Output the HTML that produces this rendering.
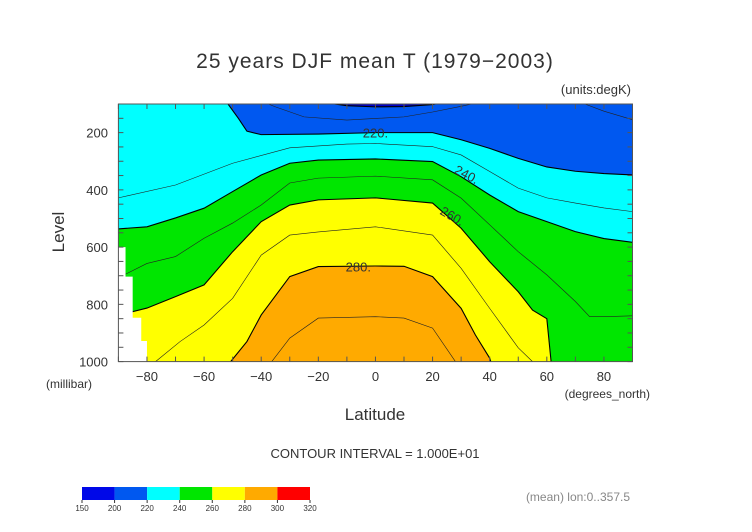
<!DOCTYPE html>
<html><head><meta charset="utf-8">
<style>
html,body{margin:0;padding:0;background:#fff;}
svg{display:block;font-family:"Liberation Sans",sans-serif;}
text{fill:#333;}
</style></head>
<body>
<svg id="chart" width="752" height="532" viewBox="0 0 752 532">
<defs><clipPath id="plotclip"><rect x="118.4" y="104" width="514.1" height="257.6"/></clipPath></defs>
<text x="375" y="68" text-anchor="middle" font-size="21" letter-spacing="1">25 years DJF mean T (1979−2003)</text>
<text x="631" y="94" text-anchor="end" font-size="13">(units:degK)</text>
<g id="plot" clip-path="url(#plotclip)"></g>
<g id="lines" clip-path="url(#plotclip)"></g>
<g id="axes"></g>
<text transform="translate(64,232) rotate(-90)" text-anchor="middle" font-size="17">Level</text>
<text x="46" y="388" font-size="12">(millibar)</text>
<text x="375" y="420" text-anchor="middle" font-size="17">Latitude</text>
<text x="650" y="398" text-anchor="end" font-size="12">(degrees_north)</text>
<text x="375" y="458" text-anchor="middle" font-size="13">CONTOUR INTERVAL = 1.000E+01</text>
<text x="630" y="501" text-anchor="end" font-size="12" fill="#888" style="fill:#888">(mean) lon:0..357.5</text>
<g id="cbar"></g>
</svg>
<script>
// ---- data ----
const xTicks = [-80,-60,-40,-20,0,20,40,60,80];
const yTicks = [200,400,600,800,1000];
const cbLevels = [150,200,220,240,260,280,300,320];
const cbColors = ["#0008e8","#0058f0","#00ffff","#00e600","#ffff00","#ffaa00","#ff0000"];
const bgColor = "#0000c8";
const fillLevels = [200,220,240,260,280];
const fillColors = ["#0058f0","#00ffff","#00e600","#ffff00","#ffaa00"];
const lat200 = [-95,-30,-20,-10,0,10,20,25,95];
const p200   = [60,60,92,106,110,109,102,92,60];
const lat220 = [-95,-60,-52,-48,-45,-40,-20,0,20,30,40,50,60,70,80,95];
const p220   = [60,60,95,150,195,207,205,200,200,225,255,290,320,335,343,350];
const lat240 = [-95,-80,-70,-60,-50,-40,-30,-20,0,20,30,40,50,60,70,80,95];
const p240   = [540,529,498,464,406,348,307,296,292,301,354,418,476,511,546,570,590];
const lat260 = [-95,-80,-70,-60,-50,-40,-30,-20,0,20,30,40,50,55,60,62,95];
const p260   = [850,813,773,732,616,511,453,435,428,446,534,651,756,820,850,1050,1050];
const lat280 = [-52,-50.7,-45,-40,-30,-20,0,10,20,30,35,40,42];
const p280   = [1050,1000,930,837,703,668,666,667,703,814,907,988,1050];
const lineLevels = [210,230,250,270,290];
const lat210 = [-40,-35,-25,-10,10,20,30,36,60,72,80,90];
const p210   = [90,110,145,156,145,128,108,95,70,95,125,155];
const lat230 = [-90,-70,-50,-30,-10,0,20,30,40,50,60,70,80,90];
const p230   = [428,383,307,253,240,238,249,278,336,394,428,446,463,476];
const lat250 = [-88,-80,-70,-60,-50,-40,-30,-20,0,20,30,40,50,60,70,75,80,90];
const p250   = [697,657,633,569,516,453,376,359,352,365,429,522,616,697,790,843,843,840];
const lat270 = [-77,-68.4,-60,-50,-40,-30,-20,0,20,30,40,45,50,55];
const p270   = [1000,930,872,779,628,558,547,529,558,674,814,883,952,1000];
const lat290 = [-36.3,-30,-20,0,10,20,28];
const p290   = [1000,918,848,843,848,883,1000];
// missing-data mask (step edges: latitude, top pressure)
const maskLat = [-87.5,-85,-82,-80];
const maskP   = [600,703,847,928];

// ---- scales ----
const X0=118.4,X1=632.5,Y0=104,Y1=361.6;
const xs = lat => X0+(lat+90)/180*(X1-X0);
const ys = p => Y0+(p-100)/900*(Y1-Y0);
const NS="http://www.w3.org/2000/svg";
function mk(tag,attrs,parent){const e=document.createElementNS(NS,tag);for(const k in attrs)e.setAttribute(k,attrs[k]);parent.appendChild(e);return e;}
const plot=document.getElementById('plot'), lines=document.getElementById('lines'), axes=document.getElementById('axes'), cbar=document.getElementById('cbar');

let bg=mk('rect',{x:X0,y:Y0,width:X1-X0,height:Y1-Y0,fill:bgColor},plot);



const fillLats=[lat200,lat220,lat240,lat260,lat280], fillPs=[p200,p220,p240,p260,p280];
fillLevels.forEach((lv,i)=>{
  const la=fillLats[i], pa=fillPs[i];
  let pts=la.map((l,j)=>xs(l)+','+ys(pa[j]));
  pts.push(xs(la[la.length-1])+','+ys(1100));
  pts.push(xs(la[0])+','+ys(1100));
  const pg=mk('polygon',{points:pts.join(' '),fill:fillColors[i]},plot);
  
  
  const ln=mk('polyline',{points:la.map((l,j)=>xs(l)+','+ys(pa[j])).join(' '),fill:'none',stroke:'#000','stroke-width':1.1},lines);
  
  
});
const lineLats=[lat210,lat230,lat250,lat270,lat290], linePs=[p210,p230,p250,p270,p290];
lineLevels.forEach((lv,i)=>{
  const la=lineLats[i], pa=linePs[i];
  const ln=mk('polyline',{points:la.map((l,j)=>xs(l)+','+ys(pa[j])).join(' '),fill:'none',stroke:'#222','stroke-width':0.6},lines);
  
  
});
// mask
let mpts=[[X0-2,ys(maskP[0])]];
maskLat.forEach((l,j)=>{
  mpts.push([xs(l),ys(maskP[j])]);
  mpts.push([xs(l),j+1<maskP.length?ys(maskP[j+1]):Y1+2]);
});
mpts.push([X0-2,Y1+2]);
const mask=mk('polygon',{points:mpts.map(p=>p.join(',')).join(' '),fill:'#fff'},lines);


// contour labels
const labs=[["220.",0,200,0],["240.",32,345,28],["260.",27,490,30],["280.",-6,668,0]];
labs.forEach(([t,la,p,rot])=>{
  const tx=mk('text',{x:xs(la),y:ys(p)+5,'text-anchor':'middle','font-size':13,transform:'rotate('+rot+' '+xs(la)+' '+ys(p)+')'},lines);
  tx.textContent=t;
  
  
});
// axes frame
const fr=mk('rect',{x:X0,y:Y0,width:X1-X0,height:Y1-Y0,fill:'none',stroke:'#555','stroke-width':1},axes);


for(let l=-90;l<=90;l+=10){
  mk('line',{x1:xs(l),x2:xs(l),y1:Y1,y2:Y1-5,stroke:'#555'},axes);
  mk('line',{x1:xs(l),x2:xs(l),y1:Y0,y2:Y0+5,stroke:'#555'},axes);
}
for(let p=150;p<=1000;p+=50){
  mk('line',{x1:X0,x2:X0+5,y1:ys(p),y2:ys(p),stroke:'#555'},axes);
  mk('line',{x1:X1,x2:X1-5,y1:ys(p),y2:ys(p),stroke:'#555'},axes);
}
xTicks.forEach(l=>{
  const t=mk('text',{x:xs(l),y:381,'text-anchor':'middle','font-size':13},axes);
  t.textContent=l<0?'−'+(-l):String(l);
  
  
});
yTicks.forEach(p=>{
  const t=mk('text',{x:108,y:ys(p)+5,'text-anchor':'end','font-size':13},axes);
  t.textContent=String(p);
  
  
});
// colorbar
const CB0=82,CB1=310,cw=(CB1-CB0)/cbColors.length;
cbColors.forEach((c,i)=>{
  const r=mk('rect',{x:CB0+i*cw,y:487,width:cw,height:13,fill:c},cbar);
  
  
});
cbLevels.forEach((v,i)=>{
  mk('line',{x1:CB0+i*cw,x2:CB0+i*cw,y1:500,y2:503,stroke:'#333'},cbar);
  const t=mk('text',{x:CB0+i*cw,y:511,'text-anchor':'middle','font-size':8},cbar);
  t.textContent=String(v);
  
  
});
</script>
</body></html>
